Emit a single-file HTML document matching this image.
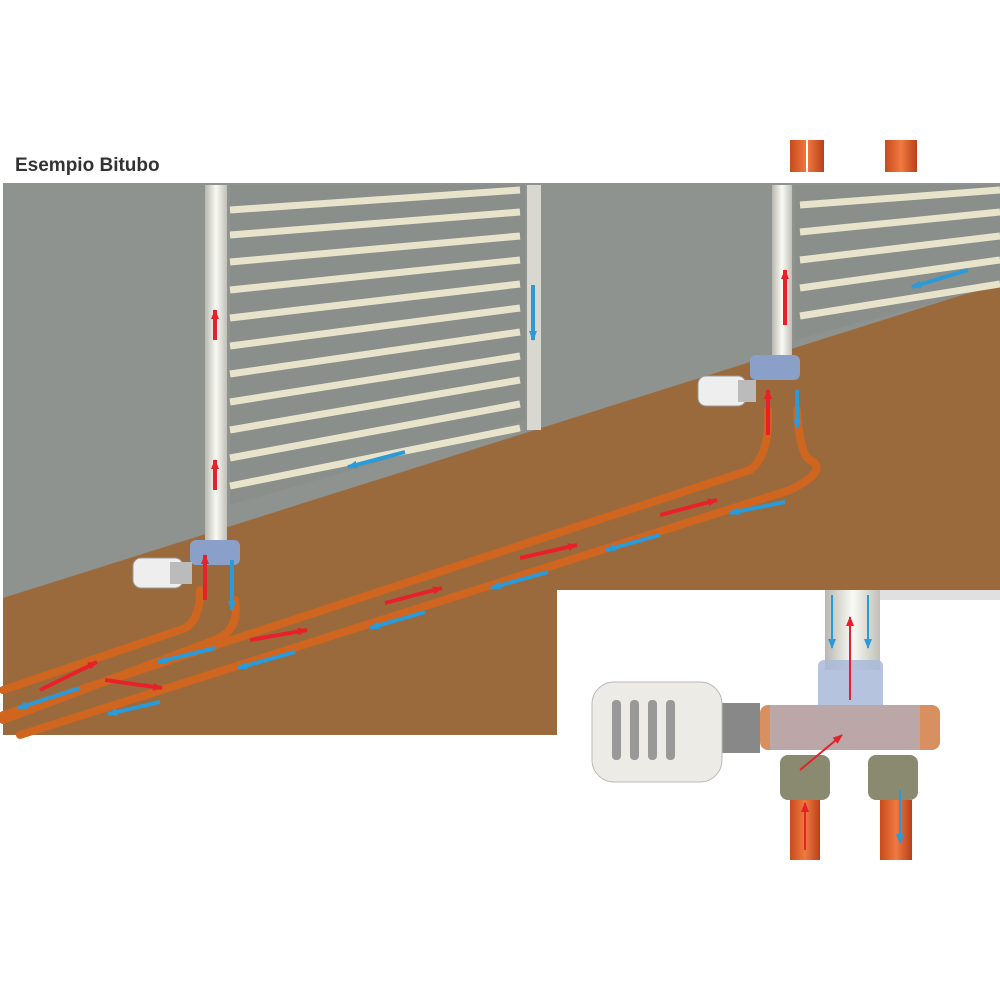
<!DOCTYPE html>
<html><head><meta charset="utf-8"><style>
html,body{margin:0;padding:0;background:#fff;}
svg{display:block}
text{font-family:"Liberation Sans",sans-serif}
</style></head><body>
<svg width="1000" height="1000" viewBox="0 0 1000 1000" xmlns="http://www.w3.org/2000/svg">
<defs>
<marker id="ar" markerUnits="userSpaceOnUse" markerWidth="10" markerHeight="8" refX="9" refY="4" orient="auto"><path d="M0,0 L10,4 L0,8 z" fill="#e8202a"/></marker>
<marker id="ab" markerUnits="userSpaceOnUse" markerWidth="10" markerHeight="8" refX="9" refY="4" orient="auto"><path d="M0,0 L10,4 L0,8 z" fill="#2a9ad8"/></marker>
<linearGradient id="pipeV" x1="0" x2="1"><stop offset="0" stop-color="#c84a1c"/><stop offset=".5" stop-color="#f07a40"/><stop offset="1" stop-color="#b8401a"/></linearGradient>
<linearGradient id="chrome" x1="0" x2="1"><stop offset="0" stop-color="#b8b8b0"/><stop offset=".5" stop-color="#fafaf5"/><stop offset="1" stop-color="#c0c0b8"/></linearGradient>
</defs>
<text x="15" y="171" font-size="19" font-weight="bold" fill="#333">Esempio Bitubo</text>
<rect x="790" y="140" width="34" height="32" fill="url(#pipeV)"/><rect x="806" y="140" width="2" height="32" fill="#fff"/>
<rect x="885" y="140" width="32" height="32" fill="url(#pipeV)"/>
<rect x="3" y="183" width="997" height="420" fill="#8e9390"/>
<polygon points="3,598 1000,283 1000,590 557,590 557,735 3,735" fill="#9b6a3c"/>
<polygon points="230,185 525,185 525,420 230,505" fill="#8a8f8c"/>
<g stroke="#e8e4cc" stroke-width="7">
<line x1="230" y1="210" x2="520" y2="190"/><line x1="230" y1="235" x2="520" y2="212"/>
<line x1="230" y1="262" x2="520" y2="236"/><line x1="230" y1="290" x2="520" y2="260"/>
<line x1="230" y1="318" x2="520" y2="284"/><line x1="230" y1="346" x2="520" y2="308"/>
<line x1="230" y1="374" x2="520" y2="332"/><line x1="230" y1="402" x2="520" y2="356"/>
<line x1="230" y1="430" x2="520" y2="380"/><line x1="230" y1="458" x2="520" y2="404"/>
<line x1="230" y1="486" x2="520" y2="428"/>
</g>
<rect x="527" y="185" width="14" height="245" fill="#d8d8d0"/>
<rect x="205" y="185" width="22" height="355" fill="url(#chrome)"/>
<polygon points="795,185 1000,185 1000,285 795,340" fill="#8a8f8c"/>
<g stroke="#e8e4cc" stroke-width="7">
<line x1="800" y1="205" x2="1000" y2="190"/><line x1="800" y1="232" x2="1000" y2="212"/>
<line x1="800" y1="260" x2="1000" y2="236"/><line x1="800" y1="288" x2="1000" y2="260"/>
<line x1="800" y1="316" x2="1000" y2="284"/>
</g>
<rect x="772" y="185" width="20" height="175" fill="url(#chrome)"/>
<g fill="none" stroke="#d0651f" stroke-width="8" stroke-linecap="round">
<path d="M200,590 Q200,625 180,630 L3,690"/>
<path d="M235,600 Q240,630 215,640 L3,720"/>
<path d="M768,410 Q770,455 750,470 L3,715"/>
<path d="M797,410 Q800,455 810,460 Q830,470 790,490 L20,735"/>
</g>
<rect x="190" y="540" width="50" height="25" rx="6" fill="#8aa0c8"/>
<rect x="133" y="558" width="50" height="30" rx="8" fill="#eee" stroke="#999"/>
<rect x="170" y="562" width="22" height="22" fill="#bbb"/>
<rect x="750" y="355" width="50" height="25" rx="6" fill="#8aa0c8"/>
<rect x="698" y="376" width="48" height="30" rx="8" fill="#eee" stroke="#999"/>
<rect x="738" y="380" width="18" height="22" fill="#bbb"/>
<g stroke-width="4">
<line x1="215" y1="490" x2="215" y2="460" stroke="#e8202a" marker-end="url(#ar)"/>
<line x1="215" y1="340" x2="215" y2="310" stroke="#e8202a" marker-end="url(#ar)"/>
<line x1="205" y1="600" x2="205" y2="555" stroke="#e8202a" marker-end="url(#ar)"/>
<line x1="232" y1="560" x2="232" y2="610" stroke="#2a9ad8" marker-end="url(#ab)"/>
<line x1="533" y1="285" x2="533" y2="340" stroke="#2a9ad8" marker-end="url(#ab)"/>
<line x1="405" y1="452" x2="348" y2="467" stroke="#2a9ad8" marker-end="url(#ab)"/>
<line x1="785" y1="325" x2="785" y2="270" stroke="#e8202a" marker-end="url(#ar)"/>
<line x1="968" y1="270" x2="912" y2="287" stroke="#2a9ad8" marker-end="url(#ab)"/>
<line x1="768" y1="435" x2="768" y2="390" stroke="#e8202a" marker-end="url(#ar)"/>
<line x1="797" y1="390" x2="797" y2="428" stroke="#2a9ad8" marker-end="url(#ab)"/>
<line x1="40" y1="690" x2="97" y2="662" stroke="#e8202a" marker-end="url(#ar)"/>
<line x1="105" y1="680" x2="162" y2="688" stroke="#e8202a" marker-end="url(#ar)"/>
<line x1="250" y1="640" x2="307" y2="630" stroke="#e8202a" marker-end="url(#ar)"/>
<line x1="385" y1="603" x2="442" y2="588" stroke="#e8202a" marker-end="url(#ar)"/>
<line x1="520" y1="558" x2="577" y2="545" stroke="#e8202a" marker-end="url(#ar)"/>
<line x1="660" y1="515" x2="717" y2="500" stroke="#e8202a" marker-end="url(#ar)"/>
<line x1="80" y1="688" x2="18" y2="708" stroke="#2a9ad8" marker-end="url(#ab)"/>
<line x1="215" y1="648" x2="158" y2="662" stroke="#2a9ad8" marker-end="url(#ab)"/>
<line x1="160" y1="702" x2="108" y2="714" stroke="#2a9ad8" marker-end="url(#ab)"/>
<line x1="295" y1="652" x2="238" y2="668" stroke="#2a9ad8" marker-end="url(#ab)"/>
<line x1="425" y1="612" x2="370" y2="628" stroke="#2a9ad8" marker-end="url(#ab)"/>
<line x1="548" y1="572" x2="491" y2="588" stroke="#2a9ad8" marker-end="url(#ab)"/>
<line x1="660" y1="535" x2="606" y2="550" stroke="#2a9ad8" marker-end="url(#ab)"/>
<line x1="785" y1="502" x2="730" y2="513" stroke="#2a9ad8" marker-end="url(#ab)"/>
</g>
<rect x="557" y="590" width="443" height="410" fill="#fff"/>
<rect x="880" y="590" width="120" height="10" fill="#e0e0e0"/>
<rect x="825" y="590" width="55" height="80" fill="url(#chrome)"/>
<rect x="818" y="660" width="65" height="80" rx="6" fill="#a8b8d8" opacity=".85"/>
<rect x="760" y="705" width="180" height="45" rx="8" fill="#d89060"/>
<rect x="770" y="705" width="150" height="45" fill="#a8b8d8" opacity=".6"/>
<rect x="780" y="755" width="50" height="45" rx="8" fill="#8a8a70"/>
<rect x="868" y="755" width="50" height="45" rx="8" fill="#8a8a70"/>
<rect x="790" y="800" width="30" height="60" fill="url(#pipeV)"/>
<rect x="880" y="800" width="32" height="60" fill="url(#pipeV)"/>
<rect x="720" y="703" width="40" height="50" fill="#888"/>
<rect x="592" y="682" width="130" height="100" rx="22" fill="#ecebe6" stroke="#bbb"/>
<g fill="#999"><rect x="612" y="700" width="9" height="60" rx="4"/><rect x="630" y="700" width="9" height="60" rx="4"/><rect x="648" y="700" width="9" height="60" rx="4"/><rect x="666" y="700" width="9" height="60" rx="4"/></g>
<g stroke-width="2">
<line x1="850" y1="700" x2="850" y2="617" stroke="#e8202a" marker-end="url(#ar)"/>
<line x1="805" y1="850" x2="805" y2="803" stroke="#e8202a" marker-end="url(#ar)"/>
<line x1="800" y1="770" x2="842" y2="735" stroke="#e8202a" marker-end="url(#ar)"/>
<line x1="832" y1="595" x2="832" y2="648" stroke="#2a9ad8" marker-end="url(#ab)"/>
<line x1="868" y1="595" x2="868" y2="648" stroke="#2a9ad8" marker-end="url(#ab)"/>
<line x1="900" y1="790" x2="900" y2="843" stroke="#2a9ad8" marker-end="url(#ab)"/>
</g>
</svg>
</body></html>
